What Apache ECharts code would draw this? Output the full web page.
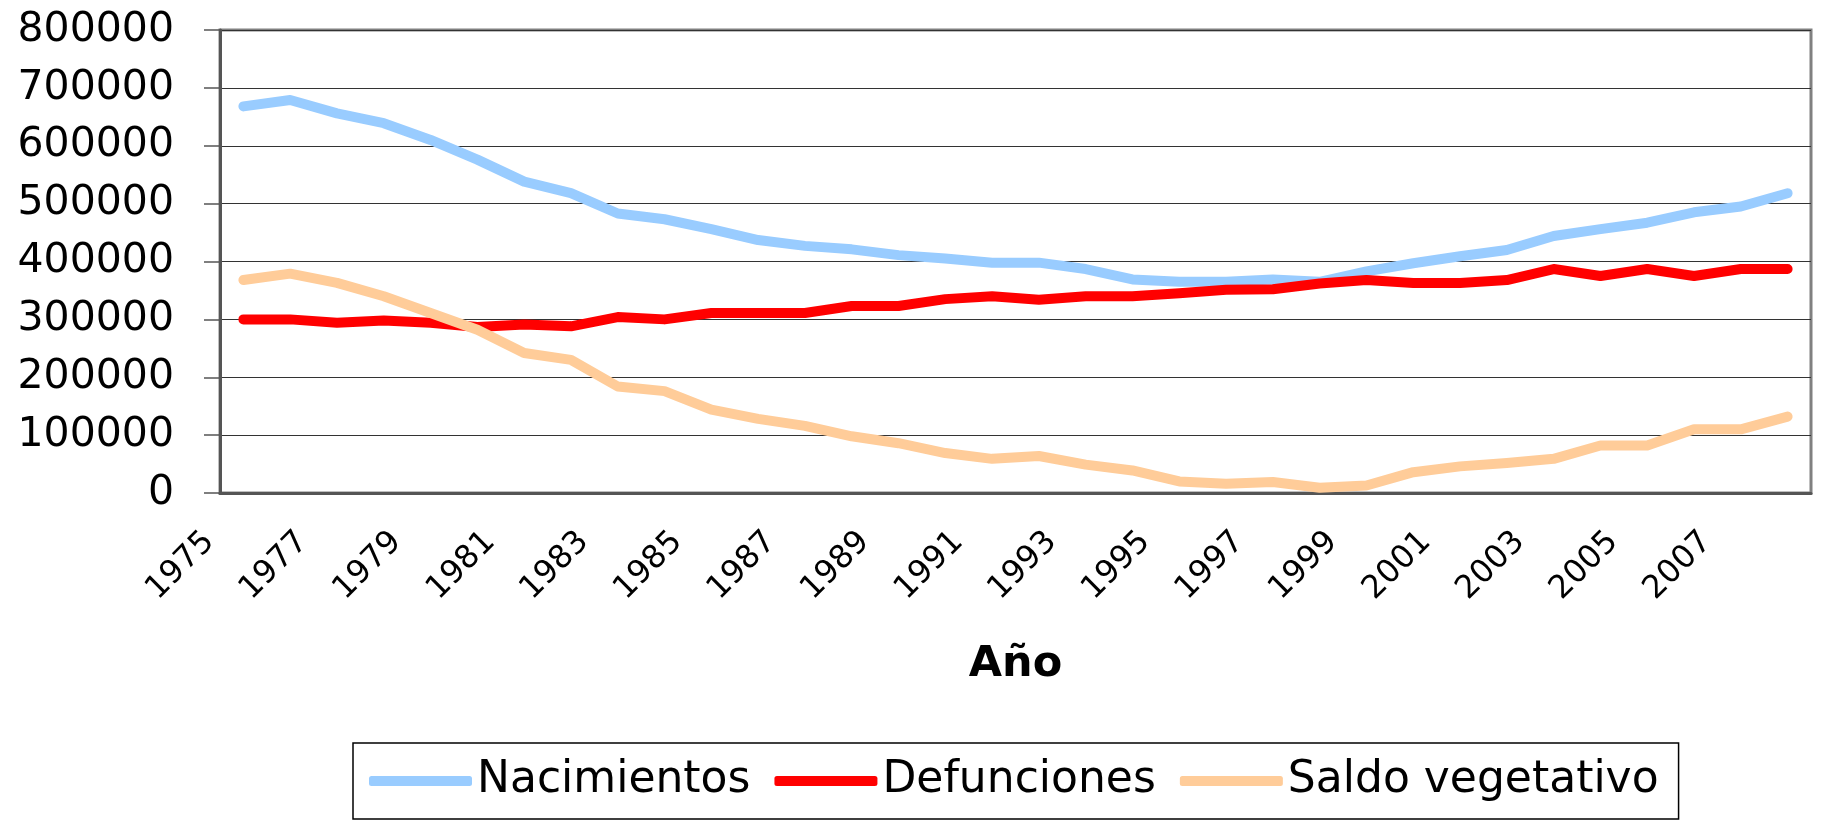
<!DOCTYPE html>
<html>

<head>
    <title>Nacimientos y defunciones</title>
    <meta http-equiv="Content-Type" content="text/html; charset=utf-8">
    <style>
        body {
            margin: 0;
            background: #fff;
        }
    </style>
</head>

<body>
    <div id="main" style="width: 1821px;height:827px;"></div>
    <script src="https://cdn.jsdelivr.net/npm/echarts@6.0.0/dist/echarts.min.js"></script>
    <script>
        // datos
        var years = ['1975', '1976', '1977', '1978', '1979', '1980', '1981', '1982', '1983', '1984',
            '1985', '1986', '1987', '1988', '1989', '1990', '1991', '1992', '1993', '1994',
            '1995', '1996', '1997', '1998', '1999', '2000', '2001', '2002', '2003', '2004',
            '2005', '2006', '2007', '2008'];
        var nacimientos = [668000, 679000, 656000, 639000, 610000, 576000, 538000, 518000, 483000, 473000,
            456000, 437000, 427000, 421000, 411000, 405000, 398000, 398000, 387000, 369000,
            365000, 365000, 369000, 365000, 383000, 397000, 409000, 420000, 444000, 456000,
            467000, 485000, 495000, 518000];
        var defunciones = [300000, 300000, 294000, 298000, 294000, 287000, 291000, 288000, 304000, 300000,
            311000, 311000, 311000, 323000, 323000, 335000, 340000, 334000, 340000, 340000,
            345000, 351000, 352000, 362000, 368000, 363000, 363000, 368000, 387000, 375000,
            387000, 375000, 387000, 387000];
        var saldo = [368000, 379000, 363000, 340000, 311000, 282000, 242000, 230000, 184000, 176000,
            144000, 128000, 116000, 98000, 86000, 69000, 59000, 64000, 49000, 39000,
            20000, 16000, 19000, 9000, 13000, 36000, 46000, 52000, 59000, 82000,
            82000, 110000, 110000, 132000];
        var yTicks = [0, 100000, 200000, 300000, 400000, 500000, 600000, 700000, 800000];

        var font = 'DejaVu Sans';

        function serie(name, color, data) {
            return {
                name: name,
                type: 'line',
                symbol: 'none',
                data: data,
                lineStyle: { color: color, width: 10, cap: 'round', join: 'round' },
                itemStyle: { color: color }
            };
        }

        var myChart = echarts.init(document.getElementById('main'));
        var option = {
            animation: false,
            grid: {
                left: 220,
                right: 10,
                top: 30,
                bottom: 334,
                show: true,
                borderColor: '#808080',
                borderWidth: 3
            },
            legend: {
                left: 353,
                top: 743,
                padding: [16, 20, 16, 16],
                borderColor: '#000',
                borderWidth: 1.5,
                icon: 'roundRect',
                itemWidth: 103,
                itemHeight: 10,
                itemGap: 24,
                textStyle: { fontFamily: font, fontSize: 44, color: '#000' },
                data: ['Nacimientos', 'Defunciones', 'Saldo vegetativo']
            },
            xAxis: {
                type: 'category',
                data: years,
                boundaryGap: true,
                name: 'Año',
                nameLocation: 'middle',
                nameGap: 150,
                nameTextStyle: { fontFamily: font, fontSize: 43, fontWeight: 'bold', color: '#000' },
                axisLine: { lineStyle: { color: '#555', width: 3 } },
                axisTick: { interval: 0, length: 10, lineStyle: { color: '#555', width: 1.5 } },
                axisLabel: {
                    interval: 1,
                    rotate: 45,
                    margin: 10,
                    padding: [0, 48, 0, 0],
                    fontFamily: font,
                    fontSize: 32,
                    color: '#000'
                },
                splitLine: { show: false }
            },
            yAxis: {
                type: 'value',
                min: yTicks[0],
                max: yTicks[yTicks.length - 1],
                interval: yTicks[1] - yTicks[0],
                axisLine: { show: true, lineStyle: { color: '#555', width: 3 } },
                axisTick: { show: true, length: 16, lineStyle: { color: '#555', width: 1.5 } },
                axisLabel: {
                    margin: 46,
                    fontFamily: font,
                    fontSize: 41,
                    color: '#000',
                    formatter: function (v) { return String(v); }
                },
                splitLine: { lineStyle: { color: '#333', width: 1.2 } }
            },
            series: [
                serie('Nacimientos', '#99ccff', nacimientos),
                serie('Defunciones', '#ff0000', defunciones),
                serie('Saldo vegetativo', '#ffcc99', saldo)
            ]
        };
        myChart.setOption(option);
    </script>
</body>
</html>
